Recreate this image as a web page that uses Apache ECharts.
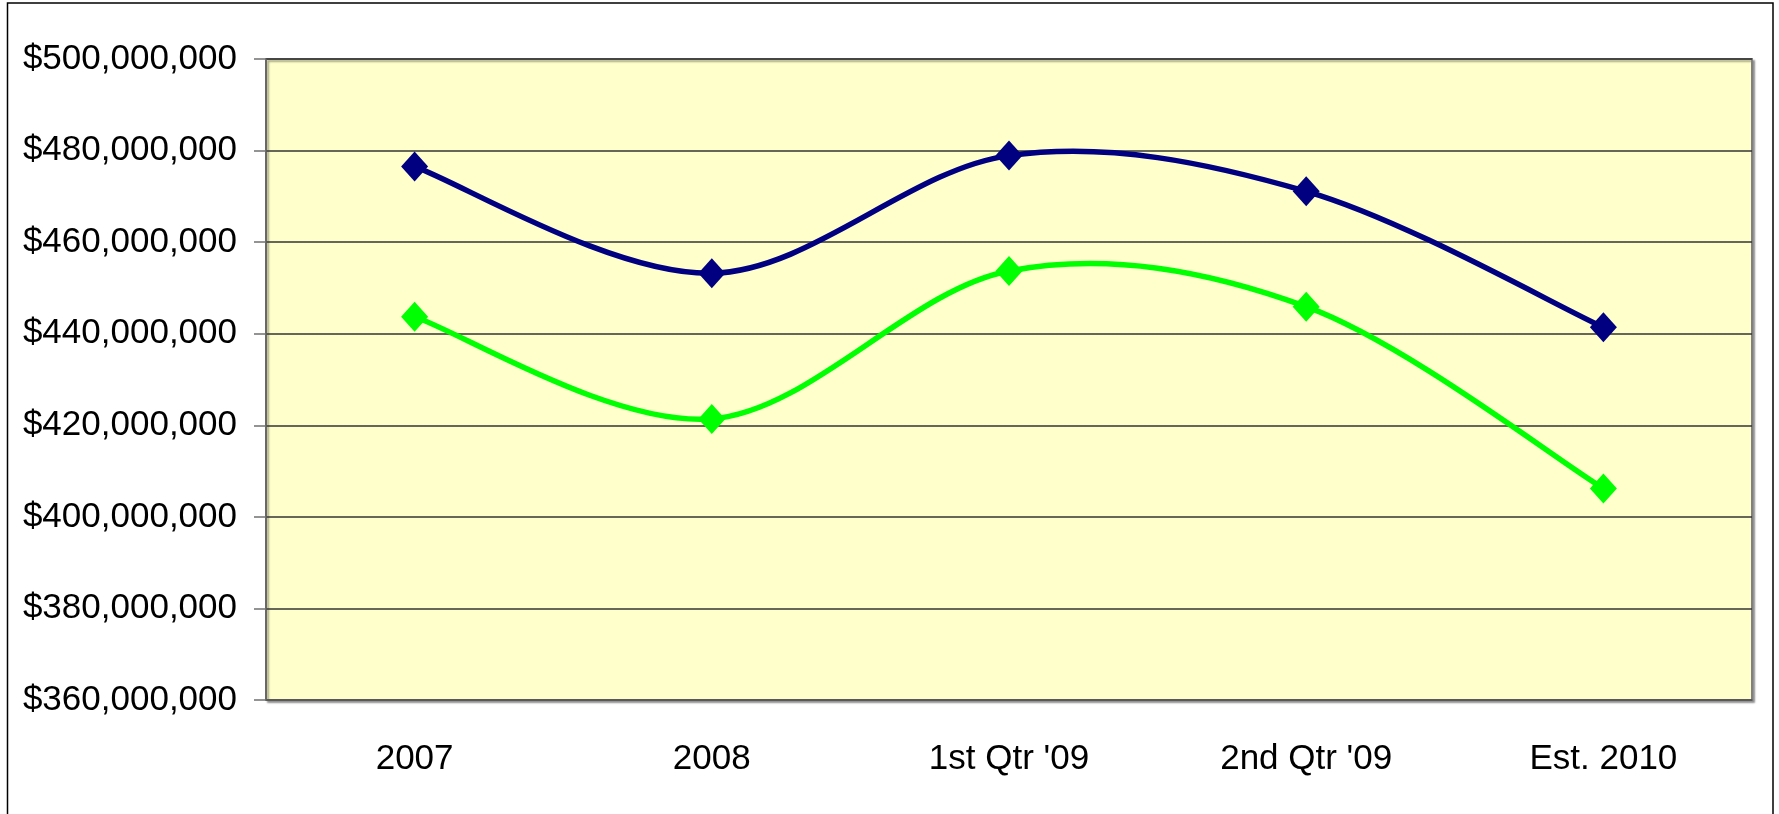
<!DOCTYPE html>
<html>
<head>
<meta charset="utf-8">
<script src="https://cdn.jsdelivr.net/npm/echarts@6/dist/echarts.min.js"></script>
<style>
html, body { margin: 0; padding: 0; background: #fff; }
#lineChart { width: 1779px; height: 814px; }
</style>
</head>
<body>
<div id="lineChart"></div>
<script>
// 数据
var categories = ['2007', '2008', "1st Qtr '09", "2nd Qtr '09", 'Est. 2010'];
var blueValues = [476500000, 453200000, 478900000, 471100000, 441400000];
var greenValues = [443700000, 421400000, 453700000, 445900000, 406200000];
var yTicks = { min: 360000000, max: 500000000, interval: 20000000 };

var labelFont = '"Liberation Sans", Arial, sans-serif';

function money(v) {
	return '$' + String(v).replace(/\B(?=(\d{3})+(?!\d))/g, ',');
}

// Excel 风格的平滑曲线（每段一条贝塞尔），坐标由 api.coord 换算
function smoothSegment(values, color) {
	return function (params, api) {
		var i = params.dataIndex;
		var n = values.length;
		if (i >= n - 1) return;
		function pt(k) {
			k = Math.max(0, Math.min(n - 1, k));
			return api.coord([k, values[k]]);
		}
		var p0 = pt(i - 1), p1 = pt(i), p2 = pt(i + 1), p3 = pt(i + 2);
		return {
			type: 'bezierCurve',
			shape: {
				x1: p1[0], y1: p1[1],
				x2: p2[0], y2: p2[1],
				cpx1: p1[0] + (p2[0] - p0[0]) / 6,
				cpy1: p1[1] + (p2[1] - p0[1]) / 6,
				cpx2: p2[0] - (p3[0] - p1[0]) / 6,
				cpy2: p2[1] - (p3[1] - p1[1]) / 6
			},
			style: { stroke: color, lineWidth: 5.5, fill: null, lineCap: 'round' }
		};
	};
}

function indexed(values) {
	return values.map(function (v, i) { return [i, v]; });
}

var lineChart = echarts.init(document.getElementById('lineChart'), null, { renderer: 'canvas' });
var lineChartOption = {
	animation: false,
	backgroundColor: '#ffffff',
	// 外框
	graphic: [{
		type: 'rect',
		shape: { x: 7.5, y: 3, width: 1765.5, height: 830 },
		style: { fill: 'none', stroke: '#000', lineWidth: 1.5 },
		silent: true
	}],
	grid: {
		left: 266,
		right: 27,
		top: 59,
		bottom: 114,
		show: true,
		backgroundColor: '#ffffcc',
		borderColor: '#808080',
		borderWidth: 2,
		shadowColor: 'rgba(0,0,0,0.35)',
		shadowOffsetX: 2,
		shadowOffsetY: 2,
		shadowBlur: 2
	},
	xAxis: {
		type: 'category',
		data: categories,
		boundaryGap: true,
		axisLine: { lineStyle: { color: '#606060', width: 1.5 } },
		axisTick: { length: 13, lineStyle: { color: '#404040', width: 1.5 } },
		axisLabel: {
			color: '#000',
			fontFamily: labelFont,
			fontSize: 35,
			margin: 42
		}
	},
	yAxis: {
		type: 'value',
		min: yTicks.min,
		max: yTicks.max,
		interval: yTicks.interval,
		axisLine: { show: true, lineStyle: { color: '#606060', width: 1.5 } },
		axisTick: { show: true, length: 12, lineStyle: { color: '#707070', width: 1.5 } },
		axisLabel: {
			color: '#000',
			fontFamily: labelFont,
			fontSize: 35,
			margin: 29,
			formatter: money
		},
		splitLine: { lineStyle: { color: '#333333', width: 1.5 } }
	},
	series: [{
		name: 'blueCurve',
		type: 'custom',
		data: indexed(blueValues),
		renderItem: smoothSegment(blueValues, '#000080'),
		z: 3
	}, {
		name: 'greenCurve',
		type: 'custom',
		data: indexed(greenValues),
		renderItem: smoothSegment(greenValues, '#00ff00'),
		z: 2
	}, {
		name: 'blue',
		type: 'line',
		data: blueValues,
		symbol: 'diamond',
		symbolSize: [27, 30],
		lineStyle: { width: 0, opacity: 0 },
		itemStyle: { color: '#000080' },
		z: 5
	}, {
		name: 'green',
		type: 'line',
		data: greenValues,
		symbol: 'diamond',
		symbolSize: [27, 30],
		lineStyle: { width: 0, opacity: 0 },
		itemStyle: { color: '#00ff00' },
		z: 4
	}]
};
lineChart.setOption(lineChartOption);
</script>
</body>
</html>
